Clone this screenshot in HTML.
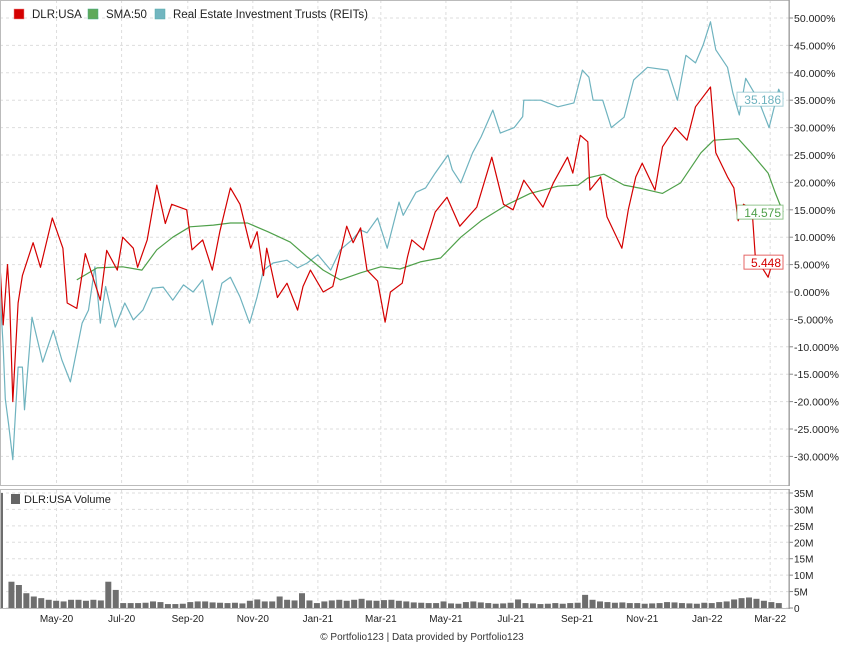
<!DOCTYPE html>
<html><head><meta charset="utf-8"><style>
html,body{margin:0;padding:0;background:#fff;}
svg{display:block;font-family:"Liberation Sans","DejaVu Sans",sans-serif;}
</style></head><body>
<svg id="c" width="845" height="650" viewBox="0 0 845 650" xmlns="http://www.w3.org/2000/svg">
<g id="grid"></g>
<g id="series"></g>
<g id="axes"></g>
<g font-size="11.5" fill="#222">
 <g><rect x="14" y="9" width="10" height="10" fill="#d40000" stroke="#e88" stroke-width="0.5"/><text x="32" y="18">DLR:USA</text></g>
 <g><rect x="88" y="9" width="10" height="10" fill="#5fa95a" stroke="#4a8" stroke-width="0.5"/><text x="106" y="18">SMA:50</text></g>
 <g><rect x="155" y="9" width="10" height="10" fill="#72b6c0" stroke="#5aa" stroke-width="0.5"/><text x="173" y="18">Real Estate Investment Trusts (REITs)</text></g>
</g>
<g><rect x="11" y="494" width="9" height="10" fill="#666"/><text x="24" y="503" font-size="11" fill="#222">DLR:USA Volume</text></g>
<text x="422" y="640" font-size="10" fill="#333" text-anchor="middle">© Portfolio123 | Data provided by Portfolio123</text>
</svg>
<script>
// DLR price change (%) by day offset from ~Mar 9 2020
const dlrDays=[0,3,7,9,12,17,21,31,38,49,59,63,72,80,94,100,110,115,125,129,138,147,155,161,175,180,190,199,206,216,225,235,241,247,250,260,269,279,284,291,303,312,325,331,338,344,354,361,366,377,382,386,397,408,419,431,447,461,472,481,491,509,519,532,537,544,551,553,563,569,583,589,596,602,614,621,633,644,652,666,671,682,688,692,697,705,708,720,725,734];
const dlrVals=[5,-6,5,-1,-20,-2,3,9,4.5,13.5,8,-2,-3,7,-1.5,7.6,4,10,8,4.5,9.5,19.5,12.5,16,15,7.7,9.5,4,11,19,16,8,11,3,8,-1,1.6,-3.3,1,4,0,1,12,9,11.7,4,2,-5.5,0,1.6,6.4,9.5,7.7,14.6,17.3,12,15.5,24.6,16,15,20.4,15.5,20,24.6,21.7,28.6,27.4,18.6,21,13.7,8,15,21,23.5,18.6,26.5,30,27.7,33.8,37.4,25.4,21,19,13,16,15,6.4,2.7,6,5.448];
const reitDays=[0,3,5,8,12,17,21,23,30,40,50,58,66,77,83,89,94,99,108,117,125,134,143,153,162,172,181,190,199,208,216,225,234,241,247,256,269,279,288,298,310,319,330,338,344,354,363,374,378,390,399,408,420,424,432,443,451,462,469,482,490,491,507,523,538,546,552,556,565,573,585,594,607,626,635,643,652,659,666,671,682,687,693,699,711,721,730,734];
const reitVals=[0,-10,-19.5,-24,-30.6,-13.7,-13.7,-21.5,-4.6,-12.8,-7,-12.4,-16.4,-5.7,-3.3,4.6,-5.7,1,-6.4,-2,-5.1,-3.3,0.7,0.9,-1.5,1.3,0,2.2,-6,1.6,2.7,-0.9,-5.7,-0.9,4,5.3,5.8,4.4,5.3,6.8,4,7.7,9.5,11.3,10.8,13.5,8,16.4,14,18.2,19,21.7,25,22.3,19.9,25.4,28.3,33.2,29,30,32,35,35,33.8,34.5,40.5,39.2,35,35,30,31.9,38.7,41,40.5,35,43.2,41.8,45,49.3,44.2,41,36.3,32.3,39,35,30,37,35.186];
const smaDays=[72,91,115,133,147,162,178,200,216,232,251,272,288,303,319,338,357,375,394,413,432,451,476,497,523,542,551,566,585,601,621,638,657,669,692,704,720,727,734];
const smaVals=[2.2,4.4,4.6,4,7.7,10,11.9,12.2,12.6,12.6,11,9.1,6.4,4,2.2,3.5,4.6,4.2,5.5,6.2,10,13,16,18,19.3,19.5,20.8,21.5,19.5,18.9,18,19.9,25.4,27.7,28,25.4,21.7,18,14.575];
// weekly volume (millions)
const volVals=[35,8,7,4.5,3.5,3,2.5,2.2,2,2.5,2.5,2.2,2.5,2.3,8,5.5,1.5,1.5,1.5,1.6,2,1.8,1.2,1.2,1.3,1.8,2,2,1.7,1.6,1.5,1.6,1.4,2.2,2.6,2,2,3.5,2.5,2.3,4.5,2.3,1.5,2,2.3,2.5,2.2,2.5,2.8,2.3,2.2,2.4,2.5,2.2,2,1.7,1.6,1.5,1.5,2,1.4,1.3,1.8,2,1.7,1.5,1.3,1.4,1.6,2.6,1.5,1.4,1.2,1.3,1.5,1.3,1.5,1.6,4,2.5,2,1.8,1.6,1.7,1.5,1.5,1.3,1.4,1.5,1.8,1.7,1.5,1.4,1.3,1.6,1.5,1.8,2,2.6,3,3.2,2.8,2.2,1.8,1.5];
const yTicks=[50,45,40,35,30,25,20,15,10,5,0,-5,-10,-15,-20,-25,-30];
const volTicks=[0,5,10,15,20,25,30,35];
const monthLabels=["May-20","Jul-20","Sep-20","Nov-20","Jan-21","Mar-21","May-21","Jul-21","Sep-21","Nov-21","Jan-22","Mar-22"];
const monthDays=[53,114,176,237,298,357,418,479,541,602,663,722];

const NS="http://www.w3.org/2000/svg";
const PR=789, DMAX=734, XEND=783;
const x=d=>d/DMAX*XEND;
const y=v=>292-v*5.48;
const yv=m=>608-m*(115/35);
function mk(t,a,p){const e=document.createElementNS(NS,t);for(const k in a)e.setAttribute(k,a[k]);p.appendChild(e);return e;}
const grid=document.getElementById('grid'),ser=document.getElementById('series'),ax=document.getElementById('axes');
let e=mk('rect',{x:0.5,y:0.5,width:PR,height:485,fill:'none',stroke:'#bbb'},ax);


e=mk('rect',{x:0.5,y:489.5,width:PR,height:119,fill:'none',stroke:'#bbb'},ax);


yTicks.forEach(v=>{
 const yy=y(v);
 let g=mk('line',{x1:0,x2:PR,y1:yy,y2:yy,stroke:'#ddd','stroke-dasharray':'3,3'},grid);
 
 
 mk('line',{x1:PR,x2:PR+4,y1:yy,y2:yy,stroke:'#888'},ax);
 let t=mk('text',{x:PR+5,y:yy+4,'font-size':'10.5',fill:'#222'},ax);
 t.textContent=v.toFixed(3)+'%';
 
 
});
volTicks.forEach(v=>{
 const yy=yv(v);
 let g=mk('line',{x1:0,x2:PR,y1:yy,y2:yy,stroke:'#ddd','stroke-dasharray':'3,3'},grid);
 
 
 mk('line',{x1:PR,x2:PR+4,y1:yy,y2:yy,stroke:'#888'},ax);
 let t=mk('text',{x:PR+5,y:yy+4,'font-size':'10',fill:'#222'},ax);
 t.textContent=v===0?'0':v+'M';
 
 
});
monthDays.forEach((d,i)=>{
 const xx=x(d);
 mk('line',{x1:xx,x2:xx,y1:0,y2:486,stroke:'#ddd','stroke-dasharray':'3,3'},grid);
 mk('line',{x1:xx,x2:xx,y1:490,y2:608,stroke:'#ddd','stroke-dasharray':'3,3'},grid);
 let t=mk('text',{x:xx,y:622,'font-size':'10',fill:'#222','text-anchor':'middle'},ax);
 t.textContent=monthLabels[i];
 
 
});
mk('line',{x1:PR,x2:PR,y1:0,y2:486,stroke:'#999'},ax);
mk('line',{x1:PR,x2:PR,y1:489,y2:609,stroke:'#999'},ax);
volVals.forEach((v,i)=>{
 const xx=i*7.45+1;
 let b=mk('rect',{x:xx,y:yv(v),width:i===0?2:6,height:608-yv(v),fill:'#6e6e6e'},ser);
 
 
});
function line(days,vals,col,name){
 const pts=days.map((d,i)=>x(d).toFixed(1)+','+y(vals[i]).toFixed(1)).join(' ');
 let p=mk('polyline',{points:pts,fill:'none',stroke:col,'stroke-width':1.2,'stroke-linejoin':'round'},ser);
 
 
}
line(reitDays,reitVals,'#6fb3bf','reits-line');
line(smaDays,smaVals,'#4fa04a','sma50-line');
line(dlrDays,dlrVals,'#d40000','dlr-line');
function tag(v,col,name){
 const yy=y(v);const txt=v.toFixed(3).replace(/0+$/,'');const w=txt.length*7+4;
 let g=mk('g',{},ser);
 
 
 mk('rect',{x:XEND-w,y:yy-7,width:w,height:14,fill:'#fff',stroke:col,'stroke-opacity':0.6},g);
 const t=mk('text',{x:XEND-2,y:yy+5,'font-size':'12','text-anchor':'end',fill:col},g);t.textContent=txt;
}
tag(reitVals[reitVals.length-1],'#6fb3bf','reits-last-value');
tag(smaVals[smaVals.length-1],'#4fa04a','sma-last-value');
tag(dlrVals[dlrVals.length-1],'#d40000','dlr-last-value');
</script>
</body></html>
